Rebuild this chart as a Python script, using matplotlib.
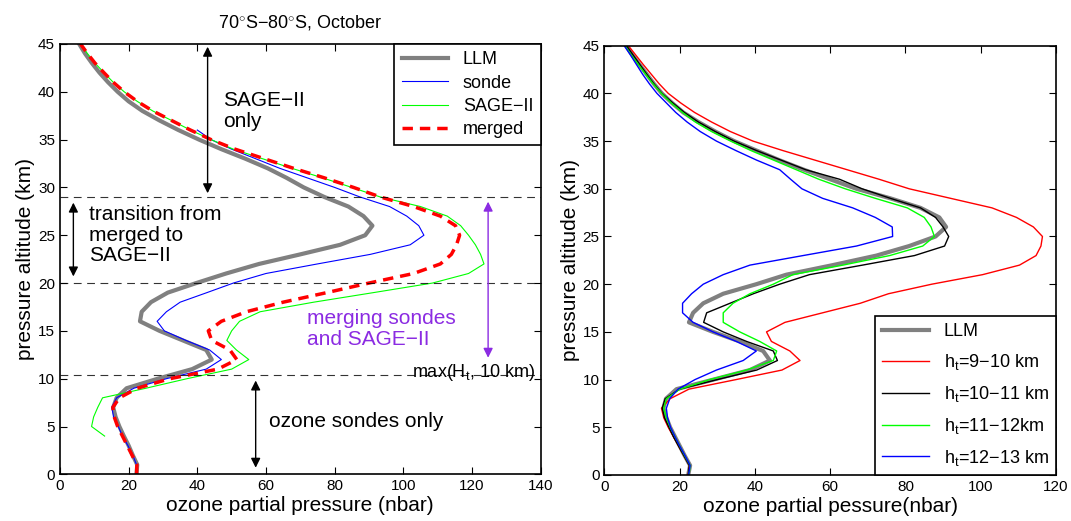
import numpy as np
import matplotlib
matplotlib.use("Agg")
import matplotlib.pyplot as plt

plt.rcParams['font.family'] = ['Liberation Sans', 'DejaVu Sans']
plt.rcParams['mathtext.fontset'] = 'custom'
plt.rcParams['mathtext.rm'] = 'Liberation Sans'
plt.rcParams['mathtext.it'] = 'Liberation Sans:italic'

# altitude grid (km)
alt = list(range(0, 46))

# left panel: 70S-80S October profiles (nbar)
llm_left = [22.3, 22.5, 21.2, 20.0, 18.6, 17.3, 16.2, 15.5, 16.5, 19.4,
            28.5, 38.5, 44.2, 42.6, 35.8, 29.0, 23.3, 23.8, 26.5, 31.4,
            39.7, 48.4, 58.0, 70.0, 81.6, 88.9, 91.0, 88.4, 84.0, 77.0,
            71.0, 66.0, 60.5, 54.0, 47.0, 40.5, 34.5, 29.0, 24.0, 20.0,
            16.8, 14.0, 11.5, 9.3, 7.3, 5.6]
sonde_alt = list(range(0, 37))
sonde = [22.3, 22.3, 21.2, 19.8, 18.2, 17.0, 15.6, 15.1, 16.5, 21.5,
         31.0, 42.6, 47.0, 43.6, 36.7, 30.4, 28.3, 31.0, 35.0, 42.8,
         50.5, 60.0, 75.0, 90.4, 102.0, 106.0, 104.5, 101.0, 96.0, 87.4,
         80.0, 72.0, 64.0, 57.0, 50.0, 44.0, 40.0]
sage_alt = list(range(4, 46))
sage = [13.0, 9.2, 9.8, 11.0, 12.4, 25.0, 37.0, 50.0, 55.0, 51.4,
        48.6, 50.0, 52.3, 58.3, 73.9, 91.3, 108.5, 119.0, 123.5, 122.5,
        121.0, 119.0, 116.7, 112.8, 105.0, 93.3, 85.0, 76.5, 67.5, 59.0,
        50.5, 44.0, 38.0, 32.5, 27.0, 22.5, 18.7, 15.5, 12.8, 10.2,
        8.0, 6.0]
merged = [22.3, 22.4, 21.0, 19.6, 18.2, 16.8, 15.8, 15.4, 17.3, 22.5,
          32.0, 46.0, 51.5, 49.5, 44.2, 43.2, 47.0, 54.3, 65.0, 77.7,
          90.0, 103.0, 110.8, 114.0, 115.5, 116.4, 115.2, 110.8, 103.0, 93.3,
          85.5, 77.0, 68.0, 59.5, 51.0, 44.0, 38.0, 32.5, 27.0, 22.5,
          18.7, 15.5, 12.8, 10.2, 8.0, 6.0]

# right panel: merged profiles by tropopause height (nbar)
llm_right = [22.3, 22.8, 21.4, 20.1, 18.8, 17.5, 16.5, 15.7, 16.4, 19.2,
             29.0, 38.7, 44.0, 42.2, 36.0, 28.9, 22.5, 23.6, 26.3, 31.6,
             40.4, 48.4, 60.7, 72.3, 81.0, 88.0, 90.8, 89.0, 84.0, 76.0,
             67.0, 60.0, 53.0, 46.5, 40.5, 34.5, 29.5, 25.0, 21.0, 18.0,
             15.3, 13.2, 11.3, 9.4, 7.5, 5.8]
ht_9_10 = [22.3, 22.6, 21.2, 19.8, 18.4, 17.0, 15.8, 15.2, 17.5, 22.5,
           35.0, 47.2, 52.0, 49.3, 44.4, 43.1, 48.0, 58.0, 68.0, 75.5,
           87.0, 100.5, 110.3, 114.7, 116.0, 116.4, 114.0, 109.5, 103.0, 92.0,
           81.0, 73.0, 64.5, 56.0, 47.5, 39.5, 33.5, 28.5, 24.0, 20.3,
           17.0, 14.6, 12.5, 10.4, 8.4, 6.4]
ht_10_11 = [22.3, 22.6, 21.2, 19.8, 18.4, 17.2, 16.0, 15.4, 16.2, 20.0,
            30.0, 40.5, 46.0, 44.9, 37.8, 31.6, 26.4, 27.2, 33.4, 39.6,
            46.6, 54.5, 68.6, 82.4, 90.4, 91.5, 90.0, 88.0, 84.0, 76.0,
            68.5, 62.5, 53.5, 47.0, 40.5, 34.5, 29.5, 25.0, 21.3, 18.2,
            15.3, 13.2, 11.3, 9.5, 7.7, 5.9]
ht_11_12 = [22.5, 22.8, 21.4, 20.1, 18.8, 17.5, 16.5, 15.8, 16.5, 20.1,
            28.0, 37.8, 44.9, 45.8, 41.3, 36.0, 31.6, 31.6, 34.2, 38.7,
            44.9, 50.1, 63.4, 75.8, 84.6, 87.7, 86.8, 85.0, 80.5, 72.0,
            64.0, 57.0, 51.0, 45.0, 39.0, 33.6, 28.5, 24.2, 20.8, 17.8,
            15.2, 13.0, 11.0, 9.1, 7.2, 5.5]
ht_12_13 = [22.4, 22.8, 21.5, 20.1, 18.8, 17.6, 16.8, 16.5, 17.4, 19.6,
            24.1, 29.8, 36.9, 40.4, 35.1, 28.9, 23.6, 20.8, 20.8, 23.2,
            26.3, 31.6, 38.7, 52.8, 67.0, 76.6, 76.5, 72.0, 66.0, 58.0,
            52.5, 49.5, 46.6, 40.5, 35.0, 29.8, 25.5, 22.0, 19.0, 16.5,
            14.0, 12.0, 10.2, 8.6, 7.0, 5.3]

purple = '#8b2be2'

fig = plt.figure(figsize=(10.71, 5.21), dpi=100)
ax1 = fig.add_axes([0.056, 0.0896, 0.4488, 0.826])
ax2 = fig.add_axes([0.5642, 0.0883, 0.4218, 0.824])

# ---- left panel ----
ax1.plot(llm_left, alt, color='#808080', lw=3, label='LLM')
ax1.plot(sonde, sonde_alt, color='b', lw=0.8, label='sonde')
ax1.plot(sage, sage_alt, color='#00ff00', lw=0.8, label='SAGE\u2212II')
ax1.plot(merged, alt, 'r--', lw=2.5, dashes=(3, 2), label='merged')

for yl in [29, 20, 10.4]:
    ax1.axhline(yl, color='k', lw=0.8, dashes=(7, 5), alpha=0.8)

arrow = dict(arrowstyle='<|-|>', color='k', lw=1, mutation_scale=14)
ax1.annotate('', xy=(43, 45), xytext=(43, 29.1), arrowprops=arrow)
ax1.annotate('', xy=(3.9, 28.7), xytext=(3.9, 20.4), arrowprops=arrow)
ax1.annotate('', xy=(57, 10.1), xytext=(57, 0.4), arrowprops=arrow)
ax1.annotate('', xy=(124.7, 28.8), xytext=(124.7, 11.9),
             arrowprops=dict(arrowstyle='<|-|>', color=purple, lw=1, mutation_scale=14))

ax1.text(47.5, 38, 'SAGE\u2212II\nonly', fontsize=15, va='center', linespacing=1.15)
ax1.text(8.5, 25, 'transition from\nmerged to\nSAGE\u2212II', fontsize=15,
         va='center', linespacing=1.1)
ax1.text(61, 5.5, 'ozone sondes only', fontsize=15, va='center')
ax1.text(72, 15.2, 'merging sondes\nand SAGE\u2212II', fontsize=15, color=purple,
         va='center', linespacing=1.15)
ax1.text(138.5, 10.6, 'max(H$_{\\mathrm{t}}$, 10 km)', fontsize=13, ha='right', va='center')

ax1.set_xlim(0, 140)
ax1.set_ylim(0, 45)
ax1.set_xticks(np.arange(0, 141, 20))
ax1.set_yticks(np.arange(0, 46, 5))
ax1.set_xlabel('ozone partial pressure (nbar)', fontsize=15, labelpad=2)
ax1.set_ylabel('pressure altitude (km)', fontsize=15, labelpad=2)
ax1.set_title('70$^{\\circ}$S\u221280$^{\\circ}$S, October', fontsize=13, pad=12)
leg1 = ax1.legend(loc='upper right', fontsize=13, handlelength=2.6, fancybox=False,
                  edgecolor='k', framealpha=1, borderaxespad=0, labelspacing=0.35)
leg1.get_frame().set_linewidth(1.2)

# ---- right panel ----
ax2.plot(llm_right, alt, color='#808080', lw=3, label='LLM')
ax2.plot(ht_9_10, alt, color='r', lw=1, label='h$_{\\mathrm{t}}$=9\u221210 km')
ax2.plot(ht_10_11, alt, color='k', lw=1, label='h$_{\\mathrm{t}}$=10\u221211 km')
ax2.plot(ht_11_12, alt, color='#00ff00', lw=1, label='h$_{\\mathrm{t}}$=11\u221212km')
ax2.plot(ht_12_13, alt, color='b', lw=1, label='h$_{\\mathrm{t}}$=12\u221213 km')

ax2.set_xlim(0, 120)
ax2.set_ylim(0, 45)
ax2.set_xticks(np.arange(0, 121, 20))
ax2.set_yticks(np.arange(0, 46, 5))
ax2.set_xlabel('ozone partial pessure(nbar)', fontsize=15, labelpad=2)
ax2.set_ylabel('pressure altitude (km)', fontsize=15, labelpad=2)
leg2 = ax2.legend(loc='lower right', fontsize=13, handlelength=2.6, fancybox=False,
                  edgecolor='k', framealpha=1, borderaxespad=0, labelspacing=0.66)
leg2.get_frame().set_linewidth(1.2)

for ax in (ax1, ax2):
    ax.tick_params(direction='in', top=True, right=True, labelsize=11, length=5)
    for s in ax.spines.values():
        s.set_linewidth(1.2)

fig.savefig('out.png', dpi=100)
